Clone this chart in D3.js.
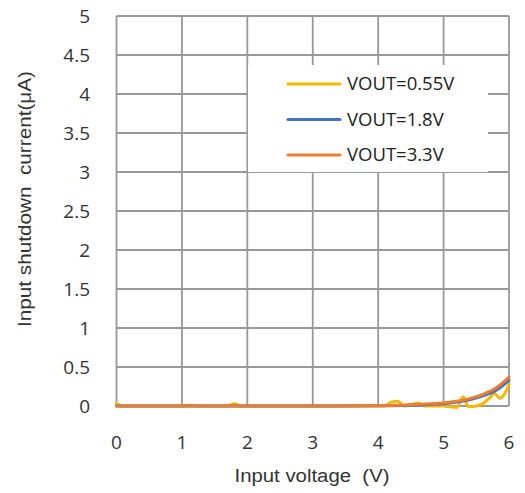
<!DOCTYPE html>
<html><head><meta charset="utf-8">
<script src="https://cdn.jsdelivr.net/npm/d3@7"></script>
<style>body{margin:0;background:#fff;}svg{display:block;}</style>
</head><body>
<svg id="c" width="525" height="493"></svg>
<script>
const xTicks = [0,1,2,3,4,5,6];
const yTicks = [0,0.5,1,1.5,2,2.5,3,3.5,4,4.5,5];
const seriesNames = ["VOUT=0.55V","VOUT=1.8V","VOUT=3.3V"];
const seriesColors = ["#F5B800","#4472C4","#ED7D31"];

const vin055 = [0,0.05,0.1,1.0,1.15,1.25,1.7,1.8,1.9,3.0,4.1,4.2,4.3,4.4,4.55,4.62,4.7,5.0,5.1,5.2,5.3,5.38,5.5,5.6,5.7,5.78,5.86,5.95,6.0];
const iin055 = [0.03,0.01,0,0,0.01,0,0,0.03,0,0,0,0.05,0.06,0,0.03,0.04,0,0,-0.01,-0.02,0.12,-0.01,0.0,0.03,0.1,0.16,0.1,0.18,0.28];
const vin18 = [0,1,2,3,4,4.5,4.8,5.0,5.2,5.4,5.6,5.8,6.0];
const iin18 = [0,0,0,0,0.003,0.01,0.02,0.03,0.05,0.08,0.13,0.2,0.33];
const vin33 = [0,1,2,3,4,4.5,4.8,5.0,5.2,5.4,5.6,5.8,6.0];
const iin33 = [0,0,0,0,0.005,0.015,0.028,0.04,0.06,0.095,0.15,0.23,0.37];

const seriesX = [vin055, vin18, vin33];
const seriesY = [iin055, iin18, iin33];

const svg = d3.select("#c");
const x = d3.scaleLinear().domain([0,6]).range([116.5,509]);
const y = d3.scaleLinear().domain([0,5]).range([406,16]);

const grid = svg.append("g");
grid.selectAll("line.h").data(yTicks).join("line")
  .attr("x1",x(0)).attr("x2",x(6)).attr("y1",d=>y(d)).attr("y2",d=>y(d))
  .attr("stroke","#999").attr("stroke-width",1.8);
grid.selectAll("line.v").data(xTicks).join("line")
  .attr("y1",y(0)).attr("y2",y(5)).attr("x1",d=>x(d)).attr("x2",d=>x(d))
  .attr("stroke","#999").attr("stroke-width",1.8);

// legend background
svg.append("rect").attr("x",248).attr("y",65).attr("width",240).attr("height",107).attr("fill","#fff");

const lbl = "'Open Sans','Noto Sans',sans-serif";
svg.append("g").selectAll("text").data(yTicks).join("text")
  .attr("x",90).attr("y",d=>y(d)).attr("dy","0.35em").attr("text-anchor","end")
  .attr("font-family",lbl).attr("font-size",19).attr("fill","#333")
  .text(d=>d);
svg.append("g").selectAll("text").data(xTicks).join("text")
  .attr("x",d=>x(d)).attr("y",442).attr("dy","0.35em").attr("text-anchor","middle")
  .attr("font-family",lbl).attr("font-size",19).attr("fill","#333")
  .text(d=>d);

svg.append("text").attr("x",312).attr("y",482).attr("text-anchor","middle")
  .attr("font-family","'Liberation Sans',Arial,sans-serif").attr("font-size",18).attr("fill","#333")
  .attr("textLength",155).attr("lengthAdjust","spacingAndGlyphs")
  .style("white-space","pre").text("Input voltage  (V)");
svg.append("text").attr("transform","translate(31,199) rotate(-90)").attr("text-anchor","middle")
  .attr("font-family","'Liberation Sans',Arial,sans-serif").attr("font-size",18).attr("fill","#333")
  .attr("textLength",256).attr("lengthAdjust","spacingAndGlyphs")
  .style("white-space","pre").text("Input shutdown  current(\u03bcA)");

const line = d3.line().x(d=>x(d[0])).y(d=>y(d[1])).curve(d3.curveMonotoneX);
[0,1,2].forEach(i=>{
  const pts = seriesX[i].map((v,k)=>[v,seriesY[i][k]]);
  svg.append("path").datum(pts).attr("d",line).attr("fill","none")
    .attr("stroke",seriesColors[i]).attr("stroke-width",3).attr("stroke-linecap","round");
});

const lg = svg.append("g");
seriesNames.forEach((n,i)=>{
  const yy = 84 + i*35.5;
  lg.append("line").attr("x1",288).attr("x2",340).attr("y1",yy).attr("y2",yy)
    .attr("stroke",seriesColors[i]).attr("stroke-width",3).attr("stroke-linecap","round");
  lg.append("text").attr("x",347).attr("y",yy).attr("dy","0.35em")
    .attr("font-family",lbl).attr("font-size",18.5).attr("fill","#222").text(n);
});
</script>
</body></html>
